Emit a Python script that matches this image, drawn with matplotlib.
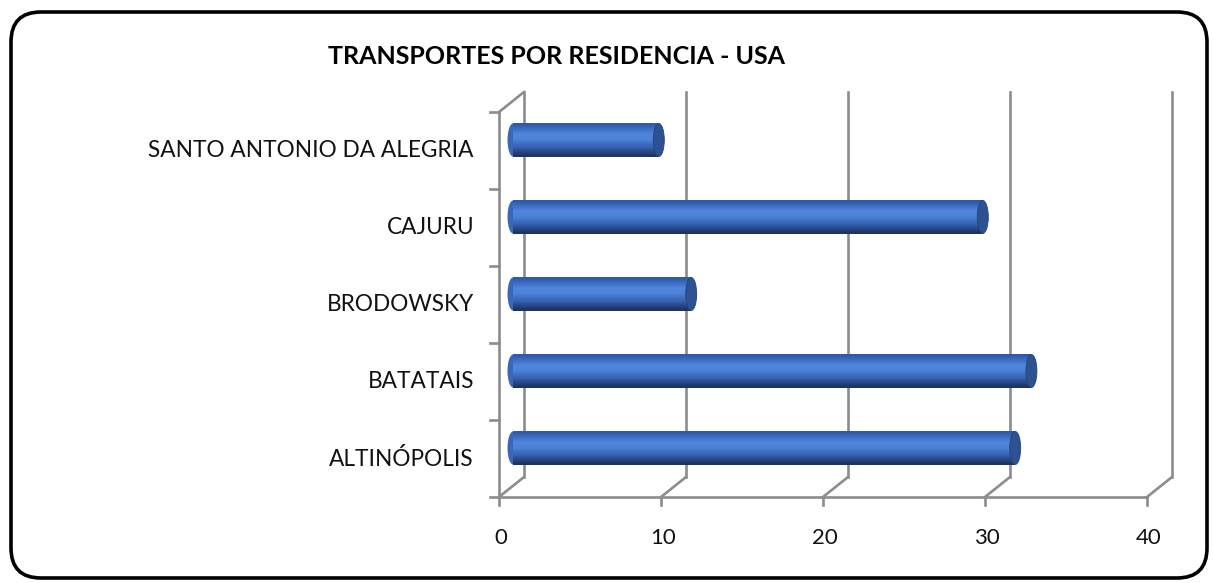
"""
Pseudo-3D cylinder bar chart: transportes por residencia (USA).
Front plane = the axes; back wall and bars are drawn with pixel offsets.
"""
import numpy as np
import matplotlib
matplotlib.use("Agg")
import matplotlib.pyplot as plt
from matplotlib.colors import LinearSegmentedColormap
from matplotlib.patches import Ellipse, FancyBboxPatch
from matplotlib.transforms import ScaledTranslation

TITLE = "TRANSPORTES POR RESIDENCIA - USA"
CITIES = ["ALTINÓPOLIS", "BATATAIS", "BRODOWSKY", "CAJURU",
          "SANTO ANTONIO DA ALEGRIA"]
VALUES = [31, 32, 11, 29, 9]
X_TICKS = [0, 10, 20, 30, 40]

W, H, DPI = 1213, 583, 100
GRID = "#8c8c8c"
FONT = ["Lato", "DejaVu Sans"]

fig = plt.figure(figsize=(W / DPI, H / DPI), dpi=DPI)


def px(dx, dy):
    # pixel offset, dy > 0 means down in the image
    return ScaledTranslation(dx / DPI, -dy / DPI, fig.dpi_scale_trans)


def at(ax_trans, x, y):
    # inch-based coordinates anchored at a data point
    return fig.dpi_scale_trans + ScaledTranslation(x, y, ax_trans)


# front plane of the 3D box
ax = fig.add_axes([499 / W, (H - 497) / H, (1147 - 499) / W, (497 - 112) / H])
ax.set_xlim(X_TICKS[0], X_TICKS[-1])
ax.set_ylim(-0.5, len(CITIES) - 0.5)
ax.axis("off")

lo, hi = -0.5, len(CITIES) - 0.5
back = ax.transData + px(25, -20)
lw = 1.9

# back wall gridlines + floor diagonals
for t in X_TICKS:
    ax.plot([t, t], [lo, hi], color=GRID, lw=lw, transform=back, clip_on=False)
    ax.plot([0, 0.25], [0, 0.20], color=GRID, lw=lw,
            transform=at(ax.transData, t, lo), clip_on=False)
    ax.plot([0, 0], [0, -0.08], color=GRID, lw=lw,
            transform=at(ax.transData, t, lo), clip_on=False)
    ax.text(t, lo, f"{t}", transform=ax.transData + px(2, 41), ha="center",
            va="center", fontsize=16, family=FONT, color="#111111")

# front floor line, left wall, top-left diagonal
ax.plot([X_TICKS[0], X_TICKS[-1]], [lo, lo], color=GRID, lw=lw, clip_on=False)
ax.plot([0, 0], [lo, hi], color=GRID, lw=lw, clip_on=False)
ax.plot([0, 0.25], [0, 0.20], color=GRID, lw=lw,
        transform=at(ax.transData, 0, hi), clip_on=False)
for b in np.arange(lo, hi + 0.01, 1.0):
    ax.plot([0, -0.09], [0, 0], color=GRID, lw=lw,
            transform=at(ax.transData, 0, b), clip_on=False)

# category labels
for i, name in enumerate(CITIES):
    ax.text(0, i, name, transform=ax.transData + px(-25, 0), ha="right",
            va="center", fontsize=16.3, family=FONT, color="#111111")

# cylinders at mid depth
bt = ax.transData + px(14, -10.5)
ypos = np.arange(len(CITIES))
bh = 0.43
cmap = LinearSegmentedColormap.from_list(
    "cyl", ["#2f5aa8", "#3d6fc6", "#4f86dc", "#4a80d6", "#3b69bb", "#2a4b8e", "#1c3463"])
n = 30
for k in range(n):
    frac = k / (n - 1)
    off = bh / 2 - (k + 0.5) * bh / n
    ax.barh(ypos + off, VALUES, height=bh / n * 1.05, left=0,
            color=cmap(frac), transform=bt, zorder=3, linewidth=0)

for i, v in enumerate(VALUES):
    ax.add_patch(Ellipse((0, 0), 0.11, 0.33, transform=at(bt, 0, i),
                         facecolor="#3a68b8", edgecolor="none", zorder=2))
    ax.add_patch(Ellipse((0, 0), 0.11, 0.33, transform=at(bt, v, i),
                         facecolor="#2d5191", edgecolor="#24437a", lw=0.6,
                         zorder=4))

fig.text(556 / W, 1 - 57 / H, TITLE, ha="center", va="center", fontsize=18,
         fontweight="bold", family=FONT, color="#000000")

border = FancyBboxPatch((0.11, 0.05), 11.96, 5.66,
                        boxstyle="round,pad=0,rounding_size=0.30",
                        transform=fig.dpi_scale_trans, facecolor="none",
                        edgecolor="black", lw=2.6)
fig.patches.append(border)

fig.savefig("out.png", dpi=DPI)
plt.close(fig)
